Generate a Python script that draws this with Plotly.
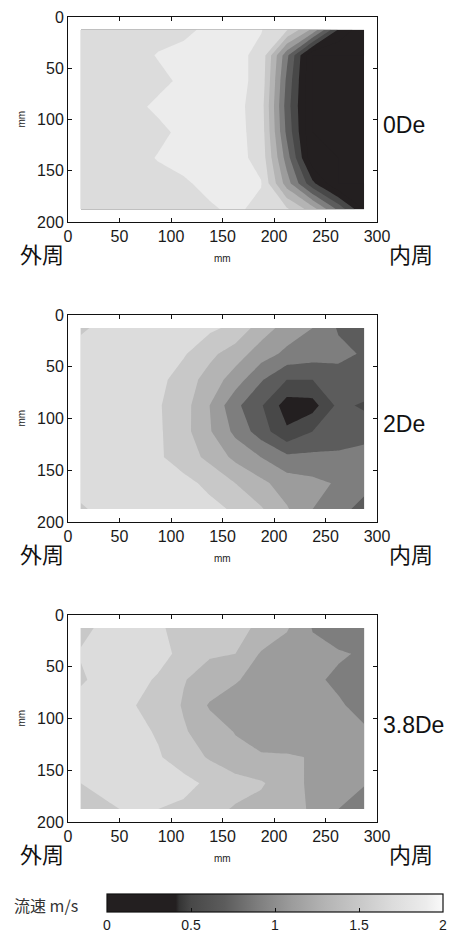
import plotly.graph_objects as go

W, H = 451, 936

# ---- data (flow speed, m/s) on the measurement grid ----
x_mm = [12.5, 37.5, 62.5, 87.5, 112.5, 137.5, 162.5, 187.5, 212.5, 237.5, 262.5, 287.5]
y_mm = [12.5, 37.5, 62.5, 87.5, 112.5, 137.5, 162.5, 187.5]

v_0De = [
    [1.70, 1.70, 1.72, 1.74, 1.77, 1.83, 1.86, 1.81, 1.62, 1.15, 0.38, 0.05],
    [1.70, 1.70, 1.74, 1.81, 1.84, 1.86, 1.85, 1.75, 0.85, 0.00, 0.00, 0.00],
    [1.70, 1.70, 1.72, 1.76, 1.83, 1.87, 1.86, 1.74, 0.75, 0.00, 0.00, 0.00],
    [1.70, 1.72, 1.76, 1.83, 1.87, 1.88, 1.86, 1.70, 0.70, 0.00, 0.00, 0.00],
    [1.70, 1.70, 1.72, 1.76, 1.84, 1.87, 1.86, 1.72, 0.75, 0.00, 0.00, 0.00],
    [1.70, 1.70, 1.74, 1.81, 1.85, 1.87, 1.86, 1.74, 0.90, 0.05, 0.00, 0.00],
    [1.70, 1.70, 1.72, 1.74, 1.78, 1.84, 1.87, 1.81, 1.10, 0.45, 0.00, 0.00],
    [1.70, 1.70, 1.71, 1.72, 1.74, 1.78, 1.83, 1.75, 1.63, 1.30, 0.75, 0.20],
]

v_2De = [
    [1.57, 1.66, 1.70, 1.70, 1.68, 1.64, 1.55, 1.30, 1.12, 1.00, 0.78, 0.65],
    [1.68, 1.72, 1.72, 1.70, 1.62, 1.45, 1.30, 1.10, 0.95, 0.90, 0.85, 0.78],
    [1.72, 1.74, 1.72, 1.66, 1.50, 1.32, 1.10, 0.82, 0.60, 0.60, 0.72, 0.76],
    [1.72, 1.74, 1.72, 1.62, 1.48, 1.20, 0.85, 0.62, 0.30, 0.32, 0.65, 0.57],
    [1.72, 1.74, 1.72, 1.63, 1.47, 1.22, 0.95, 0.70, 0.43, 0.60, 0.66, 0.72],
    [1.72, 1.74, 1.72, 1.63, 1.50, 1.35, 1.15, 1.00, 0.85, 0.85, 0.85, 0.88],
    [1.70, 1.74, 1.74, 1.72, 1.66, 1.55, 1.40, 1.25, 1.10, 1.05, 0.98, 0.90],
    [1.57, 1.68, 1.72, 1.72, 1.70, 1.66, 1.57, 1.42, 1.22, 1.00, 0.90, 0.70],
]

v_38De = [
    [1.57, 1.63, 1.66, 1.62, 1.55, 1.52, 1.46, 1.36, 1.22, 0.99, 0.90, 0.85],
    [1.61, 1.66, 1.68, 1.66, 1.55, 1.42, 1.40, 1.18, 1.10, 1.05, 1.02, 0.98],
    [1.58, 1.66, 1.66, 1.58, 1.41, 1.32, 1.22, 1.12, 1.08, 1.03, 0.97, 0.92],
    [1.66, 1.70, 1.61, 1.54, 1.38, 1.18, 1.10, 1.06, 1.05, 1.04, 1.02, 0.95],
    [1.68, 1.70, 1.66, 1.58, 1.42, 1.30, 1.19, 1.12, 1.08, 1.06, 1.05, 1.02],
    [1.68, 1.70, 1.68, 1.62, 1.50, 1.38, 1.26, 1.22, 1.22, 1.19, 1.10, 1.08],
    [1.60, 1.66, 1.70, 1.70, 1.66, 1.56, 1.48, 1.42, 1.30, 1.15, 1.10, 1.02],
    [1.50, 1.57, 1.63, 1.60, 1.56, 1.46, 1.38, 1.34, 1.26, 1.18, 1.00, 0.85],
]

panels = [("0De", v_0De), ("2De", v_2De), ("3.8De", v_38De)]

x_ticks = [0, 50, 100, 150, 200, 250, 300]
y_ticks = [0, 50, 100, 150, 200]
cbar_ticks = [0, 0.5, 1, 1.5, 2]
cbar_ticktext = ["0", "0.5", "1", "1.5", "2"]


def g(h):
    return "rgb(%d,%d,%d)" % (h, h, h)


# gray colour map over 0..2 m/s
colorscale = [
    [0.00, "rgb(35,31,32)"],
    [0.205, "rgb(35,31,32)"],
    [0.215, g(52)],
    [0.25, g(72)],
    [0.35, g(92)],
    [0.45, g(126)],
    [0.55, g(156)],
    [0.65, g(180)],
    [0.75, g(200)],
    [0.85, g(220)],
    [0.95, g(236)],
    [1.00, g(250)],
]

px_left, px_right = 68, 377
panel_px = [(17, 222), (315, 522), (615, 822)]

FONT = "Liberation Sans, Arial, sans-serif"
CJK = "Noto Sans CJK JP, sans-serif"

fig = go.Figure()
annotations = []

for i, (name, z) in enumerate(panels):
    k = "" if i == 0 else str(i + 1)
    top, bot = panel_px[i]
    fig.add_trace(go.Contour(
        x=x_mm, y=y_mm, z=z,
        xaxis="x" + k, yaxis="y" + k,
        colorscale=colorscale, zmin=0, zmax=2,
        autocontour=False,
        contours=dict(start=0, end=2, size=0.2, coloring="fill", showlines=False),
        line=dict(width=0, smoothing=0),
        showscale=False, hoverinfo="skip",
    ))
    axis_common = dict(
        showline=True, linecolor="#111", linewidth=1, mirror="ticks",
        ticks="inside", ticklen=4, tickwidth=1, tickcolor="#111",
        showgrid=False, zeroline=False,
        tickfont=dict(family=FONT, size=16, color="#1a1a1a"),
    )
    fig.update_layout(**{
        "xaxis" + k: dict(domain=[px_left / W, px_right / W], range=[0, 300],
                          tickvals=x_ticks, anchor="y" + k, **axis_common),
        "yaxis" + k: dict(domain=[1 - bot / H, 1 - top / H], range=[200, 0],
                          tickvals=y_ticks, anchor="x" + k, **axis_common),
    })
    cy = (top + bot) / 2
    annotations += [
        dict(text=name, x=381 / W, y=1 - (cy + 6) / H, xanchor="left", yanchor="middle",
             font=dict(family=FONT, size=23, color="#111")),
        dict(text="外周", x=42 / W, y=1 - (bot + 31) / H, xanchor="center", yanchor="middle",
             font=dict(family=CJK, size=22, color="#111")),
        dict(text="内周", x=411 / W, y=1 - (bot + 31) / H, xanchor="center", yanchor="middle",
             font=dict(family=CJK, size=22, color="#111")),
        dict(text="mm", x=222 / W, y=1 - (bot + 36) / H, xanchor="center", yanchor="middle",
             font=dict(family=FONT, size=10, color="#222")),
        dict(text="mm", x=21 / W, y=1 - cy / H, xanchor="center", yanchor="middle",
             textangle=-90, font=dict(family=FONT, size=10, color="#222")),
    ]

# continuous colour bar attached to an off-range dummy marker
fig.add_trace(go.Scatter(
    x=[-100], y=[-100], xaxis="x", yaxis="y", mode="markers",
    marker=dict(color=[0], colorscale=colorscale, cmin=0, cmax=2, showscale=True,
                colorbar=dict(
                    orientation="h", thickness=18, thicknessmode="pixels",
                    len=336, lenmode="pixels",
                    x=275 / W, xanchor="center", y=1 - 894 / H, yanchor="top",
                    xpad=0, ypad=0, outlinecolor="#111", outlinewidth=1.2,
                    ticks="inside", ticklen=4, tickcolor="#111",
                    tickvals=cbar_ticks, ticktext=cbar_ticktext,
                    tickfont=dict(family=FONT, size=14, color="#1a1a1a"),
                )),
    hoverinfo="skip", showlegend=False,
))

annotations.append(dict(text="流速 m/s", x=12 / W, y=1 - 905 / H, xanchor="left", yanchor="middle",
                        font=dict(family=CJK, size=16, color="#333")))
for a in annotations:
    a.update(xref="paper", yref="paper", showarrow=False)

fig.update_layout(
    width=W, height=H,
    margin=dict(l=0, r=0, t=0, b=0, pad=0, autoexpand=False),
    paper_bgcolor="white", plot_bgcolor="white",
    showlegend=False,
    annotations=annotations,
)

fig.write_html("out.html", config={"displayModeBar": False},
               post_script="document.body.style.margin='0';document.body.style.overflow='hidden';")
